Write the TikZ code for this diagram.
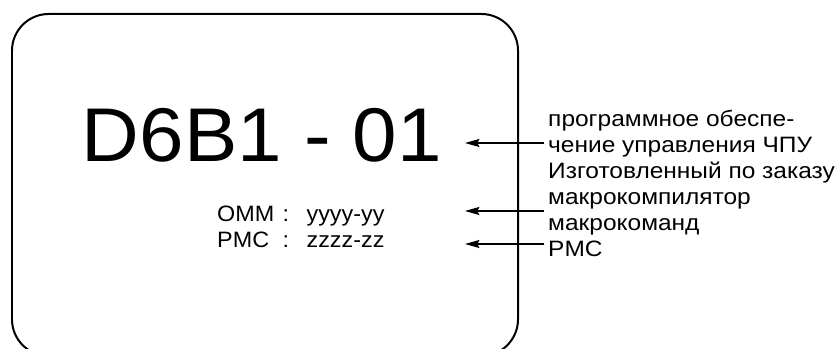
\documentclass[tikz,border=0pt]{standalone}
\usepackage{fontspec}
\setmainfont{Liberation Sans}
\newfontfamily\platefont[FakeStretch=1.05]{Liberation Sans}
\newfontfamily\notefont[FakeStretch=1.1]{Liberation Sans}
\usetikzlibrary{arrows.meta}

\tikzset{
  label line/.style={anchor=base west, inner sep=0pt, font=\notefont\fontsize{19}{22}\selectfont},
  ptr/.style={->, line width=1.3pt}
}

\begin{document}
\begin{tikzpicture}[
  x=0.03cm, y=-0.03cm,
  >={Stealth[length=4.3mm,width=2.4mm,inset=0.6mm]},
  line cap=butt,
  line join=round
]
  \useasboundingbox (0,0) rectangle (839,349);
  \clip (0,0) rectangle (839,349);

  % Label plate
  \draw[line width=1.7pt, rounded corners=1.1cm] (12,14) rectangle (518,356);

  % Type code and versions
  \node[anchor=base, inner sep=0pt, font=\platefont\fontsize{65}{78}\selectfont] (code) at (262,162) {D6B1 - 01};
  \node[anchor=base west, inner sep=0pt, font=\platefont\fontsize{19}{22}\selectfont] (vers) at (217,222)
    {\begin{tabular}[t]{@{}l@{\hspace{7pt}}c@{\hspace{15pt}}l@{}}
      OMM & : & yyyy-yy\\
      PMC & : & zzzz-zz
    \end{tabular}};

  % Explanations
  \node[label line] (l1) at (548,126.5) {программное обеспе-};
  \node[label line] (l2) at (548,152.5) {чение управления ЧПУ};
  \node[label line] (l3) at (548,178.5) {Изготовленный по заказу};
  \node[label line] (l4) at (548,204.5) {макрокомпилятор};
  \node[label line] (l5) at (548,231) {макрокоманд};
  \node[label line] (l6) at (548,257) {PMC};

  % Arrow tips
  \coordinate (tipA) at (465,143);
  \coordinate (tipB) at (465,211);
  \coordinate (tipC) at (465,244);

  \draw[ptr] ([xshift=-3pt]l2.west |- tipA) -- (tipA);
  \draw[ptr] ([xshift=-3pt]l4.west |- tipB) -- (tipB);
  \draw[ptr] ([xshift=-3pt]l6.west |- tipC) -- (tipC);
\end{tikzpicture}
\end{document}
